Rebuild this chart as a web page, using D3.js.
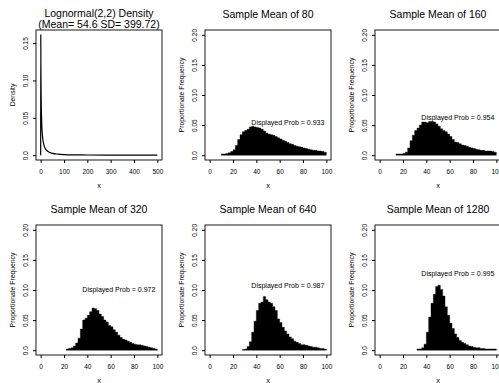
<!DOCTYPE html>
<html lang="en">
<head>
<meta charset="UTF-8">
<title>Lognormal sample means</title>
<script src="https://d3js.org/d3.v7.min.js"></script>
<style>
  body { margin: 0; background: #fff; }
  svg text { font-family: "Liberation Sans", Arial, Helvetica, sans-serif; fill: #000; }
</style>
</head>
<body>
<div id="chart"></div>
<script>
// Lognormal(2,2) density, values
const densX = [0, 0.5, 1, 2, 3, 5, 7.5, 10, 15, 20, 30, 50, 75, 100, 150, 200, 300, 400, 500];
const densY = [0, 0.161, 0.121, 0.0806, 0.0601, 0.0391, 0.0266, 0.0197, 0.0125, 0.0088, 0.0052,
               0.0025, 0.0014, 0.00085, 0.00043, 0.00026, 0.00012, 0.00007, 0.00004];

// histograms of the sample means, bins of width 2 starting at binStart
const sampleSizes = [80, 160, 320, 640, 1280];
const displayedProb = ["0.933", "0.954", "0.972", "0.987", "0.995"];
const probLabelY = [0.055, 0.063, 0.10, 0.107, 0.127];
const binStart = [10, 14, 22, 28, 32];
const binWidth = 2;

const freq80 = [0.002, 0.002, 0.003, 0.004, 0.006, 0.009, 0.016, 0.026, 0.034, 0.039, 0.041, 0.043,
  0.047, 0.048, 0.047, 0.046, 0.045, 0.043, 0.040, 0.037, 0.035, 0.034, 0.033, 0.031, 0.029, 0.027,
  0.025, 0.023, 0.021, 0.019, 0.018, 0.016, 0.015, 0.014, 0.013, 0.012, 0.011, 0.010, 0.009, 0.008,
  0.008, 0.007, 0.007, 0.006, 0.005];
const freq160 = [0.002, 0.002, 0.002, 0.003, 0.005, 0.012, 0.024, 0.033, 0.041, 0.045, 0.050, 0.055,
  0.055, 0.054, 0.056, 0.056, 0.055, 0.052, 0.048, 0.044, 0.041, 0.039, 0.035, 0.031, 0.026, 0.022,
  0.021, 0.019, 0.017, 0.016, 0.015, 0.013, 0.012, 0.011, 0.010, 0.009, 0.008, 0.008, 0.007, 0.007,
  0.007, 0.006, 0.005];
const freq320 = [0.002, 0.003, 0.004, 0.007, 0.012, 0.020, 0.035, 0.050, 0.053, 0.058, 0.064, 0.070,
  0.069, 0.066, 0.060, 0.056, 0.050, 0.047, 0.041, 0.039, 0.034, 0.030, 0.025, 0.021, 0.018, 0.017,
  0.015, 0.013, 0.011, 0.010, 0.009, 0.009, 0.008, 0.007, 0.006, 0.005, 0.004, 0.003, 0.002];
const freq640 = [0.001, 0.002, 0.006, 0.014, 0.030, 0.048, 0.066, 0.078, 0.080, 0.089, 0.084, 0.080,
  0.078, 0.072, 0.066, 0.052, 0.046, 0.038, 0.032, 0.027, 0.022, 0.019, 0.015, 0.013, 0.011, 0.009,
  0.009, 0.008, 0.007, 0.006, 0.005, 0.005, 0.004, 0.003, 0.003, 0.002];
const freq1280 = [0.002, 0.002, 0.004, 0.010, 0.030, 0.055, 0.078, 0.093, 0.106, 0.108, 0.101, 0.090,
  0.072, 0.058, 0.045, 0.036, 0.027, 0.021, 0.016, 0.013, 0.011, 0.009, 0.007, 0.006, 0.005, 0.004,
  0.004, 0.003, 0.003, 0.002, 0.002, 0.002, 0.002, 0.002];
const freqs = [freq80, freq160, freq320, freq640, freq1280];

const densXTicks = [0, 100, 200, 300, 400, 500];
const densYTicks = [0, 0.05, 0.10, 0.15];
const histXTicks = [0, 20, 40, 60, 80, 100];
const histYTicks = [0, 0.05, 0.10, 0.15, 0.20];

// layout
const width = 499, height = 383;
const colLeft = [36, 205, 375];
const rowTop = [30, 225];
const frameW = 126, frameH = 130;
const tickFont = 6.5;

const svg = d3.select("#chart").append("svg")
  .attr("width", width).attr("height", height);
svg.append("rect").attr("width", width).attr("height", height).attr("fill", "#fff");

// R style 4% range extension
function extend(lo, hi) {
  const d = (hi - lo) * 0.04;
  return [lo - d, hi + d];
}

function yFmt(v) { return v === 0 ? "0.0" : d3.format(".2f")(v); }

function panelFrame(col, row, x, y, xTicks, yTicks, ylab) {
  const g = svg.append("g").attr("transform", `translate(${colLeft[col]},${rowTop[row]})`);

  const ax = g.append("g").attr("transform", `translate(0,${frameH})`)
    .call(d3.axisBottom(x).tickValues(xTicks).tickSize(3).tickSizeOuter(0).tickPadding(6.5));
  ax.select(".domain").remove();
  ax.selectAll("text").style("font-size", tickFont + "px");

  const ay = g.append("g")
    .call(d3.axisLeft(y).tickValues(yTicks).tickSize(3).tickSizeOuter(0).tickFormat(yFmt));
  ay.select(".domain").remove();
  ay.selectAll("text")
    .style("font-size", tickFont + "px")
    .attr("text-anchor", "middle")
    .attr("transform", "rotate(-90)")
    .attr("x", 0).attr("y", -7.7).attr("dy", 0);

  g.append("text")
    .attr("transform", `translate(${-20.6},${frameH / 2}) rotate(-90)`)
    .attr("text-anchor", "middle")
    .style("font-size", "6.8px")
    .text(ylab);

  g.append("text")
    .attr("x", frameW / 2).attr("y", frameH + 27.5)
    .attr("text-anchor", "middle")
    .style("font-size", "7.5px")
    .text("x");

  return g;
}

function box(g) {
  g.append("rect")
    .attr("x", 0).attr("y", 0).attr("width", frameW).attr("height", frameH)
    .attr("fill", "none").attr("stroke", "#000").attr("stroke-width", 0.9);
}

// panel 1: density curve
{
  const x = d3.scaleLinear().domain(extend(0, 500)).range([0, frameW]);
  const y = d3.scaleLinear().domain(extend(0, 0.161)).range([frameH, 0]);
  const g = panelFrame(0, 0, x, y, densXTicks, densYTicks, "Density");

  const pts = densX.map((d, i) => [d, densY[i]]);
  g.append("path")
    .datum(pts)
    .attr("fill", "none").attr("stroke", "#000").attr("stroke-width", 1.2)
    .attr("d", d3.line().x(d => x(d[0])).y(d => y(d[1])).curve(d3.curveMonotoneX));
  box(g);

  g.append("text").attr("x", frameW / 2).attr("y", 17 - rowTop[0])
    .attr("text-anchor", "middle").style("font-size", "10.5px")
    .text("Lognormal(2,2) Density");
  g.append("text").attr("x", frameW / 2).attr("y", 28 - rowTop[0])
    .attr("text-anchor", "middle").style("font-size", "10.5px")
    .text("(Mean= 54.6 SD= 399.72)");
}

// panels 2-6: histograms of sample means
sampleSizes.forEach((n, k) => {
  const idx = k + 1;
  const col = idx % 3, row = Math.floor(idx / 3);
  const x = d3.scaleLinear().domain(extend(0, 100)).range([0, frameW]);
  const y = d3.scaleLinear().domain(extend(0, 0.2)).range([frameH, 0]);
  const g = panelFrame(col, row, x, y, histXTicks, histYTicks, "Proportionate Frequency");

  // solid step shape so adjacent bars have no seams
  const bins = freqs[k].map((f, i) => ({ x0: binStart[k] + i * binWidth, f: f }));
  const last = bins[bins.length - 1];
  bins.push({ x0: last.x0 + binWidth, f: last.f });
  g.append("path")
    .datum(bins)
    .attr("fill", "#000").attr("stroke", "#000").attr("stroke-width", 0.4)
    .attr("d", d3.area()
      .x(d => x(d.x0))
      .y0(y(0))
      .y1(d => y(d.f))
      .curve(d3.curveStepAfter));

  g.append("text")
    .attr("x", x(67)).attr("y", y(probLabelY[k]))
    .attr("dy", "0.35em")
    .attr("text-anchor", "middle").style("font-size", "7px")
    .text("Displayed Prob = " + displayedProb[k]);

  box(g);

  g.append("text").attr("x", frameW / 2).attr("y", -12.2)
    .attr("text-anchor", "middle").style("font-size", "10.5px")
    .text("Sample Mean of " + n);
});
</script>
</body>
</html>
